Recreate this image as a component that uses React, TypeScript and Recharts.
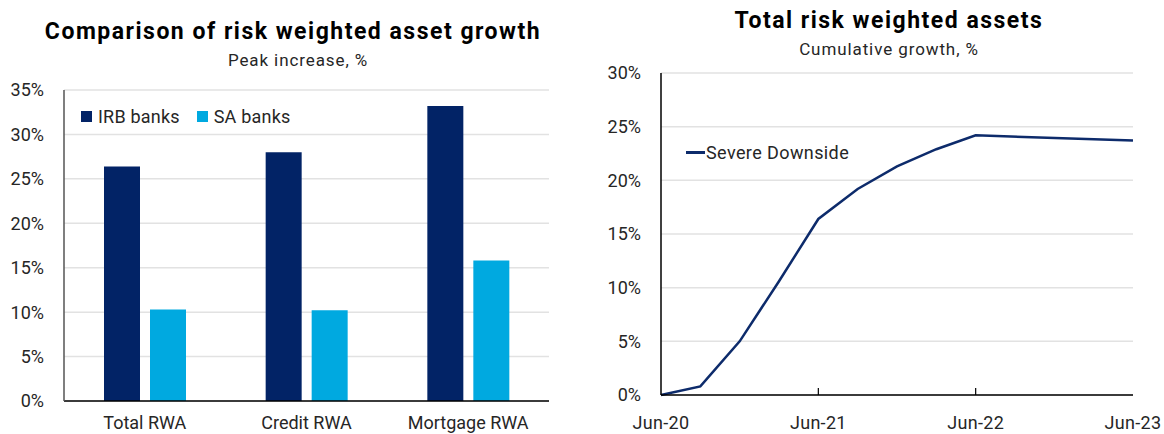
import React from 'react';
import { BarChart, Bar, LineChart, Line, XAxis, YAxis, CartesianGrid, Legend } from 'recharts';

// ---------- Data ----------
const barCategories = ['Total RWA', 'Credit RWA', 'Mortgage RWA'];
const irbValues = [26.4, 28.0, 33.2];
const saValues = [10.3, 10.2, 15.8];
const barSeriesNames = ['IRB banks', 'SA banks'];
const barYTicks = [0, 5, 10, 15, 20, 25, 30, 35];

const lineQuarters = [0, 1, 2, 3, 4, 5, 6, 7, 8, 12];
const severeDownside = [0, 0.8, 5.0, 10.6, 16.4, 19.2, 21.3, 22.9, 24.2, 23.7];
const lineSeriesName = 'Severe Downside';
const lineXTicks = [0, 4, 8, 12];
const lineXTickLabels = ['Jun-20', 'Jun-21', 'Jun-22', 'Jun-23'];
const lineYTicks = [0, 5, 10, 15, 20, 25, 30];

const leftTitle = 'Comparison of risk weighted asset growth';
const leftSubtitle = 'Peak increase, %';
const rightTitle = 'Total risk weighted assets';
const rightSubtitle = 'Cumulative growth, %';

// ---------- Built tables ----------
const barData = barCategories.map((c, i) => ({ category: c, irb: irbValues[i], sa: saValues[i] }));
const lineData = lineQuarters.map((q, i) => ({ q, value: severeDownside[i] }));

// ---------- Styles ----------
const FONT = "Roboto, 'DejaVu Sans', sans-serif";
const NAVY = '#022366';
const LIGHT_BLUE = '#00A9E0';
const LINE_NAVY = '#0D2B6B';
const TEXT = '#262626';
const GRID = '#e2e2e2';
const tickStyle = { fontSize: 18, fill: TEXT, fontFamily: FONT };

const pct = (v: number) => `${v}%`;

const BarLegend = (props: any) => {
  const payload = props.payload || [];
  return (
    <div style={{ display: 'flex', alignItems: 'center', fontFamily: FONT, fontSize: 18, lineHeight: '21px', color: TEXT, whiteSpace: 'nowrap', letterSpacing: 0.2 }}>
      {payload.map((p: any, i: number) => (
        <div key={i} style={{ display: 'flex', alignItems: 'center', marginRight: 17 }}>
          <span style={{ width: 11, height: 11, background: p.color, display: 'inline-block', marginRight: 6 }} />
          <span>{p.value}</span>
        </div>
      ))}
    </div>
  );
};

const LineLegend = (props: any) => {
  const payload = props.payload || [];
  return (
    <div style={{ display: 'flex', alignItems: 'center', fontFamily: FONT, fontSize: 18, lineHeight: '21px', color: TEXT, whiteSpace: 'nowrap', letterSpacing: 0.4 }}>
      {payload.map((p: any, i: number) => (
        <div key={i} style={{ display: 'flex', alignItems: 'center' }}>
          <span style={{ width: 19, height: 2.5, background: p.color, display: 'inline-block', marginRight: 1 }} />
          <span>{p.value}</span>
        </div>
      ))}
    </div>
  );
};

const LINE_TICK_MARGIN = 21;
const LineXTick = (props: any) => {
  const { x, y, payload, index } = props;
  const idx = lineXTicks.indexOf(payload.value);
  const label = idx >= 0 ? lineXTickLabels[idx] : String(payload.value);
  const axisY = y - LINE_TICK_MARGIN;
  const inner = index !== 0 && index !== lineXTicks.length - 1;
  return (
    <g>
      {inner && <line x1={x} x2={x} y1={axisY} y2={axisY - 7} stroke="#000" strokeWidth={1.2} />}
      <text x={x} y={y} dy="0.71em" textAnchor="middle" fontSize={18} fill={TEXT} fontFamily={FONT} letterSpacing={0.3}>
        {label}
      </text>
    </g>
  );
};

export default function App() {
  return (
    <div style={{ position: 'absolute', left: 0, top: 0, width: 1164, height: 434, background: '#fff', overflow: 'hidden' }}>
      <div style={{ position: 'absolute', left: 0, top: 0 }}>
        <BarChart width={580} height={434} data={barData} margin={{ top: 90, right: 31, bottom: 0, left: 0 }} barSize={36} barGap={10}>
          <CartesianGrid vertical={false} stroke={GRID} strokeWidth={1.5} />
          <XAxis dataKey="category" height={33} tickLine={false} tickSize={0} tickMargin={15} interval={0}
            axisLine={{ stroke: '#000', strokeWidth: 1.5 }} tick={tickStyle} />
          <XAxis xAxisId="top" orientation="top" dataKey="category" height={0} tick={false} tickLine={false}
            axisLine={{ stroke: '#555', strokeWidth: 1.5 }} />
          <YAxis width={64} domain={[0, 35]} ticks={barYTicks} tickFormatter={pct} tickLine={false} tickSize={0} tickMargin={20}
            axisLine={{ stroke: '#555', strokeWidth: 1.5 }} tick={tickStyle} interval={0} />
          <YAxis yAxisId="right" orientation="right" width={0} tick={false} tickLine={false}
            axisLine={{ stroke: '#555', strokeWidth: 1.5 }} />
          <Legend verticalAlign="middle" layout="horizontal" content={BarLegend}
            wrapperStyle={{ left: 81, top: 106, width: 'auto', height: 'auto' }} />
          <Bar dataKey="irb" name={barSeriesNames[0]} fill={NAVY} isAnimationActive={false} />
          <Bar dataKey="sa" name={barSeriesNames[1]} fill={LIGHT_BLUE} isAnimationActive={false} />
        </BarChart>
      </div>
      <div style={{ position: 'absolute', left: 580, top: 0 }}>
        <LineChart width={584} height={434} data={lineData} margin={{ top: 73, right: 31, bottom: 0, left: 0 }}>
          <CartesianGrid vertical={false} stroke={GRID} strokeWidth={1.5} />
          <XAxis dataKey="q" type="number" domain={[0, 12]} ticks={lineXTicks} interval={0} height={39}
            tickLine={false} tickSize={0} tickMargin={LINE_TICK_MARGIN} tick={<LineXTick />}
            axisLine={{ stroke: '#000', strokeWidth: 1.5 }} />
          <XAxis xAxisId="top" orientation="top" dataKey="q" type="number" domain={[0, 12]} height={0} tick={false} tickLine={false}
            axisLine={{ stroke: '#000', strokeWidth: 1.5 }} />
          <YAxis width={81} domain={[0, 30]} ticks={lineYTicks} tickFormatter={pct} tickLine={false} tickSize={0} tickMargin={20}
            axisLine={{ stroke: '#000', strokeWidth: 1.5 }} tick={tickStyle} interval={0} />
          <YAxis yAxisId="right" orientation="right" width={0} tick={false} tickLine={false}
            axisLine={{ stroke: '#000', strokeWidth: 1.5 }} />
          <Legend verticalAlign="middle" layout="horizontal" content={LineLegend}
            wrapperStyle={{ left: 106, top: 142, width: 'auto', height: 'auto' }} />
          <Line type="linear" dataKey="value" name={lineSeriesName} stroke={LINE_NAVY} strokeWidth={2.5} dot={false} isAnimationActive={false} />
        </LineChart>
      </div>
      <svg width={1164} height={434} style={{ position: 'absolute', left: 0, top: 0, pointerEvents: 'none' }}>
        <text x={293} y={38.5} textAnchor="middle" fontFamily={FONT} fontWeight={700} fontSize={23} letterSpacing={1.5} fill="#000">{leftTitle}</text>
        <text x={298} y={66} textAnchor="middle" fontFamily={FONT} fontSize={17} letterSpacing={0.9} fill={TEXT}>{leftSubtitle}</text>
        <text x={889} y={28} textAnchor="middle" fontFamily={FONT} fontWeight={700} fontSize={23} letterSpacing={1.5} fill="#000">{rightTitle}</text>
        <text x={889} y={55} textAnchor="middle" fontFamily={FONT} fontSize={17} letterSpacing={0.9} fill={TEXT}>{rightSubtitle}</text>
      </svg>
    </div>
  );
}
